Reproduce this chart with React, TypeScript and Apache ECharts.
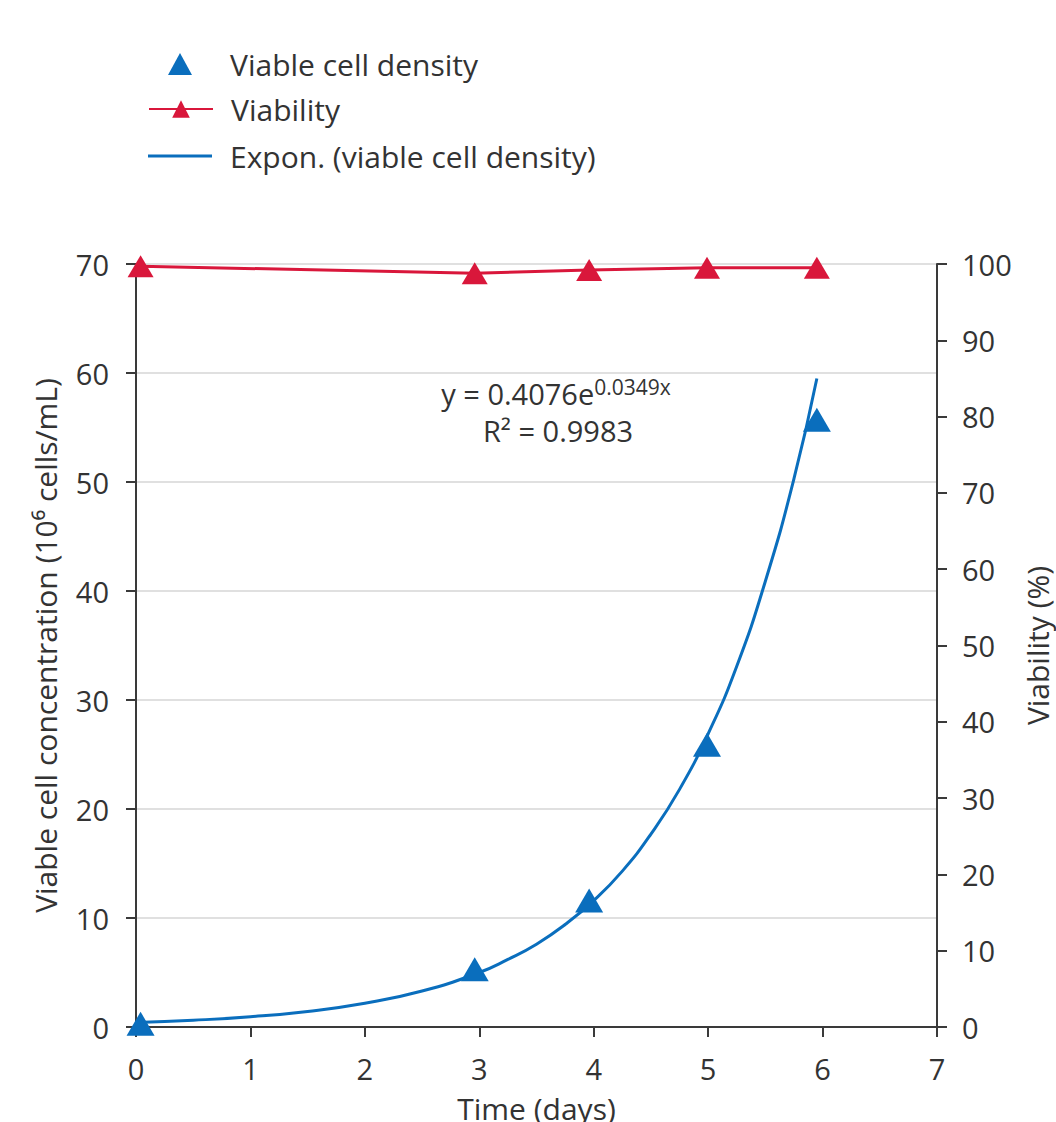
import React, { useEffect, useRef } from "react";
import * as echarts from "echarts";

const densityDays = [0.04, 2.96, 3.96, 4.99, 5.95];
const densityValues = [0.3, 5.3, 11.6, 25.9, 55.7];
const viabilityValues = [99.7, 98.8, 99.2, 99.5, 99.5];
const trendDays = [0, 0.5, 1, 1.5, 2, 2.5, 3, 3.25, 3.5, 3.75, 4, 4.25, 4.5, 4.75, 5, 5.25, 5.5, 5.75, 5.95];
const trendValues = [0.41, 0.62, 0.94, 1.43, 2.18, 3.3, 5.0, 6.2, 7.6, 9.4, 11.6, 14.3, 17.7, 21.8, 26.9, 33.1, 40.9, 50.3, 59.5];
const xTicks = [0, 1, 2, 3, 4, 5, 6, 7];

const BLUE = "#0a6ebd";
const RED = "#d9173b";
const AXIS = "#3a3a3a";
const TEXT = "#333333";
const FONT = "Open Sans";
const FS = 29;
const NFS = 30;

export default function App() {
  const ref = useRef<HTMLDivElement>(null);
  useEffect(() => {
    const chart = echarts.init(ref.current!, null, { renderer: "svg" });
    const legendText = (pad: number) => ({
      fontSize: NFS,
      color: TEXT,
      fontFamily: FONT,
      padding: [0, 0, 0, pad],
    });
    chart.setOption({
      animation: false,
      textStyle: { fontFamily: FONT, color: TEXT },
      legend: [
        {
          left: 168,
          top: 49,
          padding: 0,
          itemWidth: 24,
          itemHeight: 22,
          textStyle: legendText(33),
          data: [{ name: "Viable cell density", icon: "triangle" }],
        },
        {
          left: 148,
          top: 94,
          padding: 0,
          itemWidth: 64,
          itemHeight: 22,
          textStyle: legendText(13),
          data: ["Viability"],
        },
        {
          left: 148,
          top: 141,
          padding: 0,
          itemWidth: 64,
          itemHeight: 3,
          textStyle: legendText(13),
          data: [{ name: "Expon. (viable cell density)", icon: "rect" }],
        },
      ],
      grid: { left: 136, right: 119, top: 264, bottom: 95, containLabel: false, outerBoundsMode: "none" },
      xAxis: {
        type: "value",
        min: 0,
        max: 7,
        interval: 1,
        name: "Time (days)",
        nameLocation: "middle",
        nameGap: 66,
        nameTextStyle: { fontSize: NFS, color: TEXT, fontFamily: FONT },
        axisLine: { show: true, lineStyle: { color: AXIS, width: 2 } },
        axisTick: { show: true, length: 10, lineStyle: { color: AXIS, width: 2 } },
        axisLabel: {
          fontSize: FS,
          color: TEXT,
          margin: 27,
          formatter: (v: number) => (xTicks.includes(v) ? String(v) : ""),
        },
        splitLine: { show: false },
      },
      yAxis: [
        {
          type: "value",
          min: 0,
          max: 70,
          interval: 10,
          name: "Viable cell concentration (10\u2076 cells/mL)",
          nameLocation: "middle",
          nameGap: 76,
          nameRotate: 90,
          nameTextStyle: { fontSize: NFS, color: TEXT, fontFamily: FONT },
          axisLine: { show: true, lineStyle: { color: AXIS, width: 2 } },
          axisTick: { show: true, length: 10, lineStyle: { color: AXIS, width: 2 } },
          axisLabel: { fontSize: FS, color: TEXT, margin: 27 },
          splitLine: { show: true, lineStyle: { color: "#d6d6d6", width: 1.5 } },
        },
        {
          type: "value",
          min: 0,
          max: 100,
          interval: 10,
          position: "right",
          name: "Viability (%)",
          nameLocation: "middle",
          nameGap: 82,
          nameRotate: 90,
          nameTextStyle: { fontSize: NFS, color: TEXT, fontFamily: FONT },
          axisLine: { show: true, lineStyle: { color: AXIS, width: 2 } },
          axisTick: { show: true, length: 10, lineStyle: { color: AXIS, width: 2 } },
          axisLabel: { fontSize: FS, color: TEXT, margin: 25 },
          splitLine: { show: false },
        },
      ],
      series: [
        {
          name: "Expon. (viable cell density)",
          type: "line",
          yAxisIndex: 0,
          smooth: true,
          showSymbol: false,
          symbol: "none",
          lineStyle: { color: BLUE, width: 3 },
          itemStyle: { color: BLUE },
          data: trendDays.map((d, i) => [d, trendValues[i]]),
          z: 2,
        },
        {
          name: "Viable cell density",
          type: "scatter",
          yAxisIndex: 0,
          symbol: "triangle",
          symbolSize: [28, 24],
          itemStyle: { color: BLUE, opacity: 1 },
          data: densityDays.map((d, i) => [d, densityValues[i]]),
          z: 3,
        },
        {
          name: "Viability",
          type: "line",
          yAxisIndex: 1,
          symbol: "triangle",
          symbolSize: [26, 22],
          lineStyle: { color: RED, width: 3 },
          itemStyle: { color: RED },
          data: densityDays.map((d, i) => [d, viabilityValues[i]]),
          z: 3,
        },
      ],
      graphic: [
        {
          type: "text",
          x: 556,
          y: 376,
          style: {
            text: "{a|y = 0.4076e}{b|0.0349x}",
            textAlign: "center",
            rich: {
              a: { fontSize: FS, fontFamily: FONT, fill: TEXT },
              b: { fontSize: 21, fontFamily: FONT, fill: TEXT, padding: [0, 0, 14, 0] },
            },
          },
        },
        {
          type: "text",
          x: 558,
          y: 416,
          style: { text: "R\u00b2 = 0.9983", textAlign: "center", fontSize: FS, fontFamily: FONT, fill: TEXT },
        },
      ],
    });
    return () => chart.dispose();
  }, []);
  return <div ref={ref} style={{ width: 1056, height: 1122, position: "absolute", left: 0, top: 0 }} />;
}
